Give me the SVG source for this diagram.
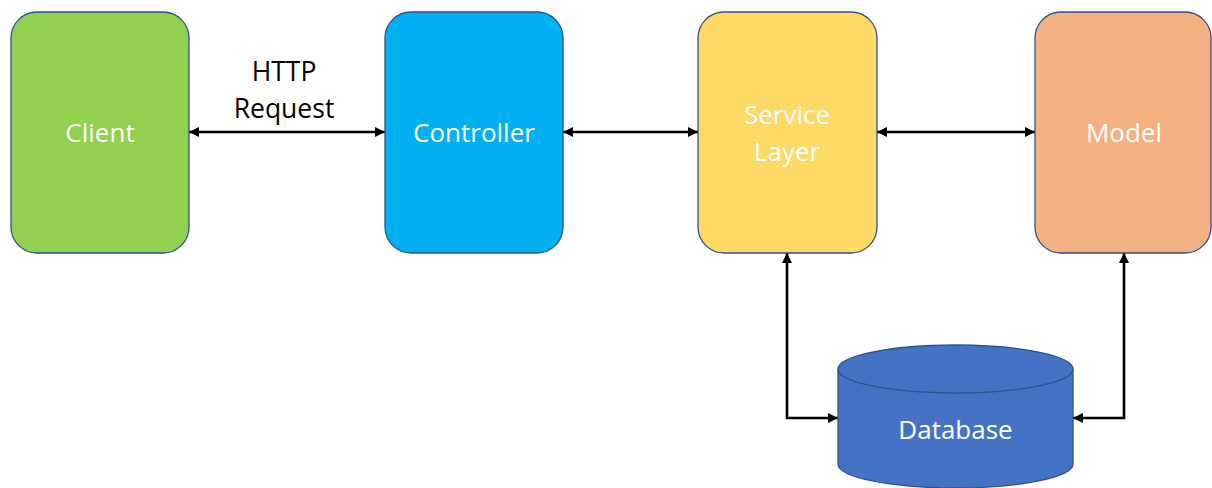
<svg xmlns="http://www.w3.org/2000/svg" width="1212" height="488" viewBox="0 0 1212 488">
  <style>
    .box { stroke: #2F528F; stroke-width: 1.3; }
    .lbl { font-family: "Open Sans", "Noto Sans", "Liberation Sans", sans-serif; font-size: 26px; fill: #FFFFFF; text-anchor: middle; }
    .note { font-family: "Open Sans", "Noto Sans", "Liberation Sans", sans-serif; font-size: 26.5px; fill: #000000; text-anchor: middle; }
    .link { fill: none; stroke: #000000; stroke-width: 2.6; marker-start: url(#arrow); marker-end: url(#arrow); }
  </style>
  <defs>
    <marker id="arrow" viewBox="0 0 10 10" refX="10" refY="5" markerWidth="4" markerHeight="4" orient="auto-start-reverse" markerUnits="strokeWidth">
      <path d="M0,0 L10,5 L0,10 Z" fill="#000000"/>
    </marker>
  </defs>
  <rect width="1212" height="488" fill="#FFFFFF"/>

  <g id="connectors">
    <path class="link" d="M189,132 H385"/>
    <path class="link" d="M563,132 H698"/>
    <path class="link" d="M877,132 H1035"/>
    <path class="link" d="M787,253 V418 H838"/>
    <path class="link" d="M1124,253 V418 H1073"/>
    <text class="note" x="284" y="81">HTTP</text>
    <text class="note" x="284" y="118">Request</text>
  </g>

  <g id="client">
    <rect class="box" x="11" y="12" width="178" height="241" rx="26" fill="#92D050"/>
    <text class="lbl" x="100" y="142">Client</text>
  </g>

  <g id="controller">
    <rect class="box" x="385" y="12" width="178" height="241" rx="26" fill="#00B0F0"/>
    <text class="lbl" x="474" y="142">Controller</text>
  </g>

  <g id="service-layer">
    <rect class="box" x="698" y="12" width="179" height="241" rx="26" fill="#FFD966"/>
    <text class="lbl" x="787" y="124">Service</text>
    <text class="lbl" x="787" y="161">Layer</text>
  </g>

  <g id="model">
    <rect class="box" x="1035" y="12" width="176" height="241" rx="26" fill="#F4B183"/>
    <text class="lbl" x="1124" y="142">Model</text>
  </g>

  <g id="database">
    <path class="box" d="M838,369 V464 A117.5,24 0 0 0 1073,464 V369 A117.5,24 0 0 0 838,369 Z" fill="#4472C4"/>
    <path class="box" d="M838,369 A117.5,24 0 0 0 1073,369" fill="none"/>
    <text class="lbl" x="955.5" y="439">Database</text>
  </g>
</svg>
